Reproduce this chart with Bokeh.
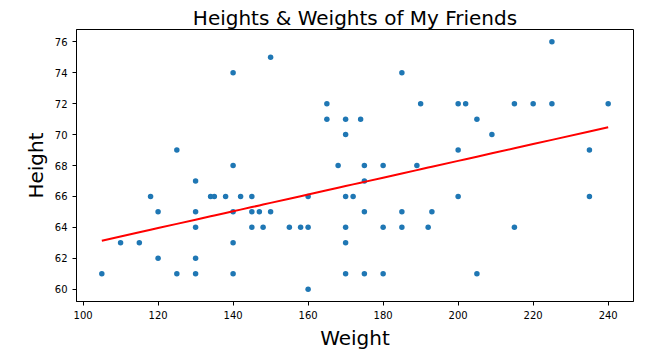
import numpy as np
from bokeh.plotting import figure
from bokeh.models import Range1d, FixedTicker
from bokeh.embed import file_html
from bokeh.resources import INLINE

weights = [105, 110, 115, 118, 120, 120, 125, 125,
           130, 130, 130, 130, 130,
           134, 135, 138,
           140, 140, 140, 140, 140,
           142, 145, 145, 145, 147, 148, 150, 150,
           155, 158, 160, 160, 160,
           165, 165, 168,
           170, 170, 170, 170, 170, 170,
           172, 174, 175, 175, 175, 175,
           180, 180, 180,
           185, 185, 185, 189, 190, 192, 193,
           200, 200, 200, 202, 205, 205, 209,
           215, 215, 220, 225, 225,
           235, 235, 240]
heights = [61, 63, 63, 66, 65, 62, 61, 69,
           67, 65, 64, 62, 61,
           66, 66, 66,
           74, 68, 65, 63, 61,
           66, 66, 65, 64, 65, 64, 75, 65,
           64, 64, 66, 64, 60,
           72, 71, 68,
           71, 70, 66, 64, 63, 61,
           66, 71, 68, 67, 65, 61,
           68, 64, 61,
           74, 65, 64, 68, 72, 64, 65,
           72, 69, 66, 72, 71, 61, 70,
           72, 64, 72, 76, 72,
           69, 66, 72]
x_ticks = [100, 120, 140, 160, 180, 200, 220, 240]
y_ticks = [60, 62, 64, 66, 68, 70, 72, 74, 76]

w = np.array(weights, dtype=float)
h = np.array(heights, dtype=float)
slope, intercept = np.polyfit(w, h, 1)
xs = np.sort(w)
ys = slope * xs + intercept

p = figure(width=655, height=354, output_backend="svg", toolbar_location=None,
           title="Heights & Weights of My Friends",
           x_range=Range1d(98.25, 246.75), y_range=Range1d(59.2, 76.8),
           min_border_left=76, min_border_right=22, min_border_top=29, min_border_bottom=53)

p.scatter(w, h, size=5.5, color="#1f77b4", line_color=None)
p.line(xs, ys, color="red", line_width=2)

p.title.text_font = "DejaVu Sans"
p.title.text_font_size = "20px"
p.title.text_font_style = "normal"
p.title.align = "center"
p.title.text_color = "black"
p.title.standoff = 0
p.title.text_line_height = 1.0

for ax in (p.xaxis[0], p.yaxis[0]):
    ax.major_label_text_font = "DejaVu Sans"
    ax.major_label_text_font_size = "10px"
    ax.major_label_text_color = "black"
    ax.axis_label_text_font = "DejaVu Sans"
    ax.axis_label_text_font_size = "20px"
    ax.axis_label_text_font_style = "normal"
    ax.axis_label_text_color = "black"
    ax.major_tick_out = 4
    ax.major_tick_in = 0
    ax.minor_tick_out = 0
    ax.minor_tick_in = 0
    ax.axis_line_color = "black"
    ax.major_tick_line_color = "black"

p.xaxis.axis_label = "Weight"
p.yaxis.axis_label = "Height"
p.xaxis.ticker = FixedTicker(ticks=x_ticks)
p.yaxis.ticker = FixedTicker(ticks=y_ticks)
p.xaxis.axis_label_standoff = 4
p.yaxis.axis_label_standoff = 4

p.xgrid.visible = False
p.ygrid.visible = False
p.outline_line_color = "black"
p.outline_line_alpha = 1
p.outline_line_width = 1
p.background_fill_color = "white"
p.border_fill_color = "white"

open("out.html", "w").write(file_html(p, INLINE))
